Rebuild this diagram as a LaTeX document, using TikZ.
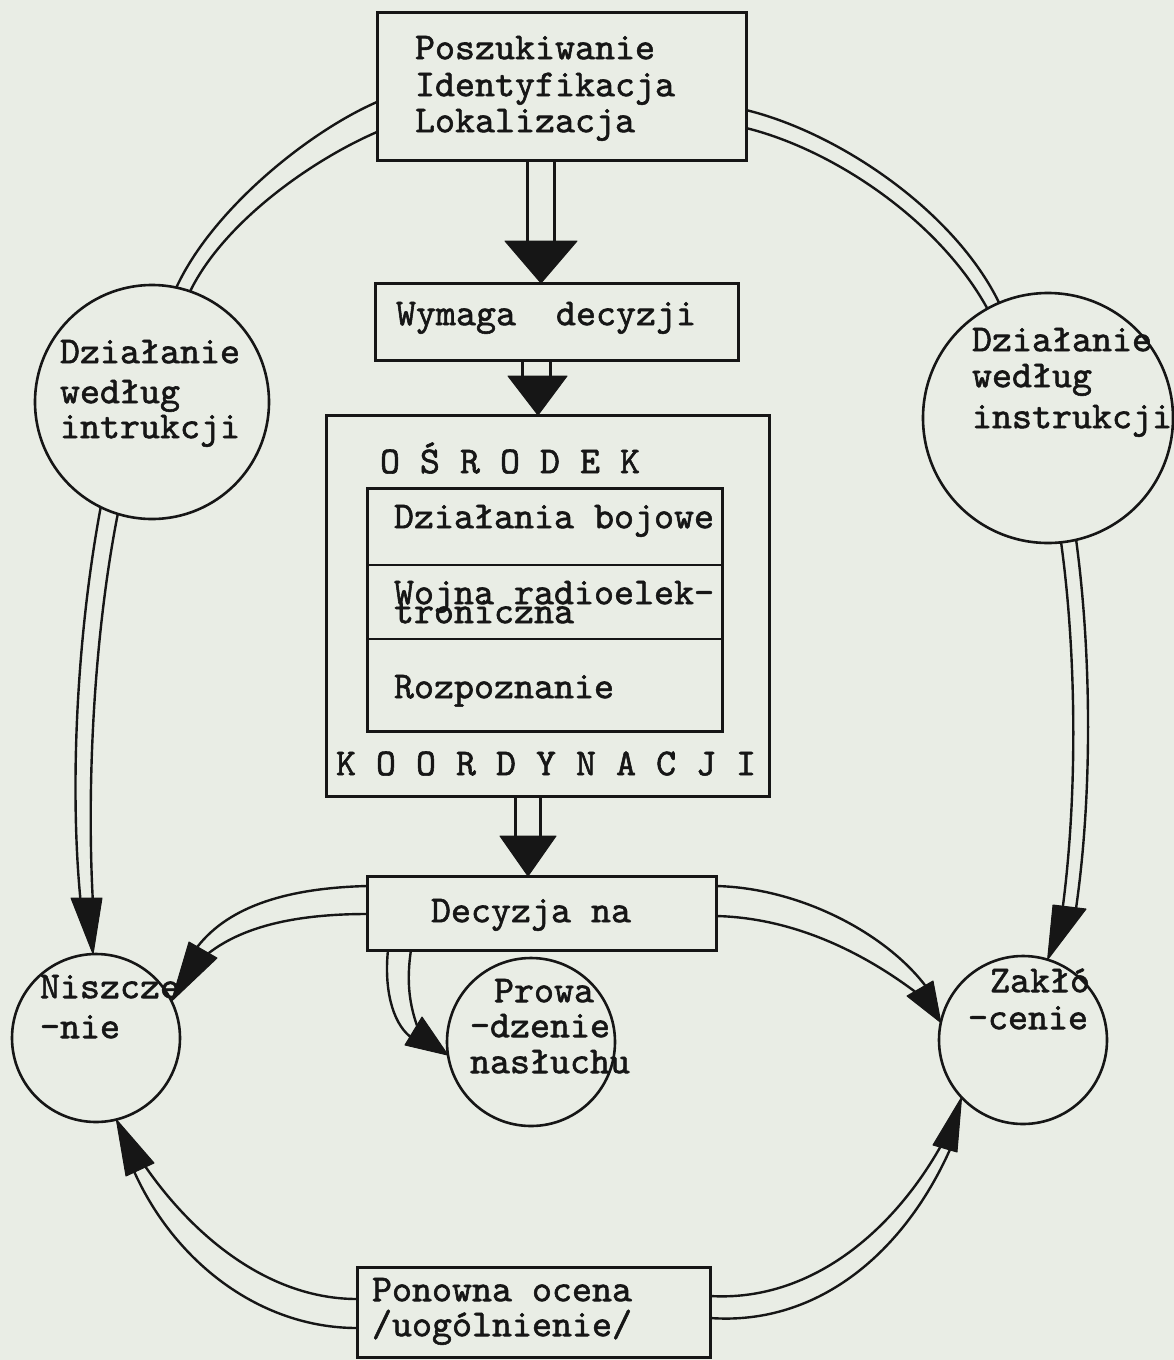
\documentclass[tikz,border=0pt]{standalone}
\usepackage{fontspec}
\setmonofont{lmmono10-regular.otf}[FakeBold=1.5]
\usetikzlibrary{calc}
\definecolor{paper}{RGB}{233,237,229}
\definecolor{ink}{RGB}{22,22,22}
\begin{document}
\begin{tikzpicture}[x=1pt,y=-1pt,
  every node/.style={inner sep=0pt, outer sep=0pt},
  box/.style={draw=ink, line width=3pt, rectangle},
  ring/.style={draw=ink, line width=2.6pt, circle},
  lbl/.style={anchor=west, yshift=-6pt, text=ink, font=\ttfamily\fontsize{38.1}{42}\selectfont, text height=0.62em, text depth=0.18em},
  rail/.style={draw=ink, line width=2.4pt},
  head/.style={fill=ink, draw=ink, line width=1pt, line join=round},
  sep/.style={draw=ink, line width=2.8pt}]
\fill[paper] (0,0) rectangle (1174,1360);
\useasboundingbox (0,0) rectangle (1174,1360);

% shapes
\node[box, minimum width=369pt, minimum height=148pt] (top) at (561.5,86) {};
\node[box, minimum width=363pt, minimum height=77pt] (wym) at (556.5,321.5) {};
\node[box, minimum width=443pt, minimum height=381pt] (osr) at (547.5,605.5) {};
\node[box, minimum width=355pt, minimum height=243pt] (osrin) at (544.5,609.5) {};
\node[box, minimum width=349pt, minimum height=74pt] (dec) at (541.5,913) {};
\node[box, minimum width=353pt, minimum height=90pt] (pon) at (533.5,1312) {};
\node[ring, minimum size=234pt] (lc) at (152,402) {};
\node[ring, minimum size=250pt] (rc) at (1048,418) {};
\node[ring, minimum size=168pt] (nis) at (96,1038) {};
\node[ring, minimum size=168pt] (prow) at (531,1042) {};
\node[ring, minimum size=168pt] (zak) at (1023,1040) {};

% dividers of inner box
\coordinate (d1) at (0,565);
\coordinate (d2) at (0,639);
\draw[sep] (osrin.west |- d1) -- (osrin.east |- d1);
\draw[sep] (osrin.west |- d2) -- (osrin.east |- d2);

% vertical double arrows
\coordinate (v1a) at (527,243); \coordinate (v1b) at (554,243);
\coordinate (v1l) at (505,241); \coordinate (v1r) at (577,241);
\draw[rail, line width=3pt] ($(top.south west)+(150,0)$) -- (v1a);
\draw[rail, line width=3pt] ($(top.south west)+(177,0)$) -- (v1b);
\filldraw[head] (v1l) -- (v1r) -- ($(wym.north west)+(166,0)$) -- cycle;

\coordinate (v2a) at (522,378); \coordinate (v2b) at (550,378);
\coordinate (v2l) at (508,376); \coordinate (v2r) at (567,376);
\draw[rail, line width=3pt] ($(wym.south west)+(147,0)$) -- (v2a);
\draw[rail, line width=3pt] ($(wym.south west)+(175,0)$) -- (v2b);
\filldraw[head] (v2l) -- (v2r) -- ($(osr.north west)+(212,0)$) -- cycle;

\coordinate (v3a) at (515,838); \coordinate (v3b) at (540,838);
\coordinate (v3l) at (500,836); \coordinate (v3r) at (556,836);
\draw[rail, line width=3pt] ($(osr.south west)+(189,0)$) -- (v3a);
\draw[rail, line width=3pt] ($(osr.south west)+(214,0)$) -- (v3b);
\filldraw[head] (v3l) -- (v3r) -- ($(dec.north west)+(161,0)$) -- cycle;

% A: top box -> left circle
\draw[rail] ($(top.north west)+(0,90)$) .. controls (308,132) and (212,210) .. (lc.78);
\draw[rail] ($(top.north west)+(0,120)$) .. controls (312,160) and (224,222) .. (lc.71);
% B: top box -> right circle
\draw[rail] ($(top.north east)+(0,98)$) .. controls (840,133) and (955,212) .. (rc.113);
\draw[rail] ($(top.north east)+(0,116)$) .. controls (835,150) and (940,222) .. (rc.119);
% C: left circle -> Niszczenie
\coordinate (cb1) at (71,898); \coordinate (cb2) at (102,898);
\draw[rail] (lc.244) .. controls (76,640) and (70,790) .. ($(cb1)!.3!(cb2)$);
\draw[rail] (lc.253) .. controls (93,640) and (87,790) .. ($(cb1)!.7!(cb2)$);
\filldraw[head] (cb1) -- (cb2) -- (nis.92) -- cycle;
% D: right circle -> Zaklocenie
\coordinate (db1) at (1053,905); \coordinate (db2) at (1086,909);
\draw[rail] (rc.276) .. controls (1076,650) and (1078,790) .. ($(db1)!.3!(db2)$);
\draw[rail] (rc.283) .. controls (1091,650) and (1093,790) .. ($(db1)!.7!(db2)$);
\filldraw[head] (db1) -- (db2) -- (zak.73) -- cycle;
% E: Decyzja -> Niszczenie
\coordinate (eb1) at (189,942); \coordinate (eb2) at (217,958);
\draw[rail] ($(dec.north west)+(0,10)$) .. controls (290,888) and (230,905) .. ($(eb1)!.3!(eb2)$);
\draw[rail] ($(dec.north west)+(0,38)$) .. controls (300,914) and (245,925) .. ($(eb1)!.7!(eb2)$);
\filldraw[head] (eb1) -- (eb2) -- (nis.26) -- cycle;
% F: Decyzja -> Prowadzenie
\coordinate (fb1) at (405,1045); \coordinate (fb2) at (422,1017);
\draw[rail] ($(dec.south west)+(21,0)$) .. controls (384,988) and (392,1022) .. ($(fb1)!.3!(fb2)$);
\draw[rail] ($(dec.south west)+(44,0)$) .. controls (406,983) and (410,1005) .. ($(fb1)!.7!(fb2)$);
\filldraw[head] (fb1) -- (fb2) -- (prow.189) -- cycle;
% G: Decyzja -> Zaklocenie
\coordinate (gb1) at (933,981); \coordinate (gb2) at (907,996);
\draw[rail] ($(dec.north east)+(0,10)$) .. controls (800,888) and (885,933) .. ($(gb1)!.3!(gb2)$);
\draw[rail] ($(dec.north east)+(0,40)$) .. controls (800,918) and (870,958) .. ($(gb1)!.7!(gb2)$);
\filldraw[head] (gb1) -- (gb2) -- (zak.168) -- cycle;
% H: Ponowna -> Niszczenie
\coordinate (hb1) at (126,1176); \coordinate (hb2) at (154,1163);
\draw[rail] ($(pon.north west)+(0,61)$) .. controls (260,1328) and (175,1262) .. ($(hb1)!.3!(hb2)$);
\draw[rail] ($(pon.north west)+(0,32)$) .. controls (270,1299) and (195,1238) .. ($(hb1)!.7!(hb2)$);
\filldraw[head] (hb1) -- (hb2) -- (nis.284) -- cycle;
% I: Ponowna -> Zaklocenie
\coordinate (ib1) at (957,1152); \coordinate (ib2) at (933,1145);
\draw[rail] ($(pon.north east)+(0,51)$) .. controls (820,1326) and (905,1250) .. ($(ib1)!.3!(ib2)$);
\draw[rail] ($(pon.north east)+(0,29)$) .. controls (810,1302) and (892,1232) .. ($(ib1)!.7!(ib2)$);
\filldraw[head] (ib1) -- (ib2) -- (zak.223) -- cycle;

% texts
\node[lbl] (t1) at (415,51) {Poszukiwanie};
\node[lbl] (t2) at (415,88) {Identyfikacja};
\node[lbl] (t3) at (415,124) {Lokalizacja};
\node[lbl] (t4) at (396,317) {Wymaga~~decyzji};
\node[lbl] (t5) at (380,465) {O Ś R O D E K};
\node[lbl] (t6) at (394,520) {Działania bojowe};
\node[lbl] (t7) at (394,596) {Wojna radioelek-};
\node[lbl] (t8) at (394,615) {troniczna};
\node[lbl] (t9) at (394,690) {Rozpoznanie};
\node[lbl] (t10) at (336,767) {K O O R D Y N A C J I};
\node[lbl] (t11) at (431,914) {Decyzja na};
\node[lbl] (t12) at (60,355) {Działanie};
\node[lbl] (t13) at (60,395) {według};
\node[lbl] (t14) at (60,430) {intrukcji};
\node[lbl] (t15) at (972,343) {Działanie};
\node[lbl] (t16) at (972,379) {według};
\node[lbl] (t17) at (972,420) {instrukcji};
\node[lbl] (t18) at (40,990) {Niszcze};
\node[lbl] (t19) at (40,1030) {-nie};
\node[lbl] (t20) at (494,994) {Prowa};
\node[lbl] (t21) at (470,1029) {-dzenie};
\node[lbl] (t22) at (470,1065) {nasłuchu};
\node[lbl] (t23) at (990,984) {Zakłó};
\node[lbl] (t24) at (968,1021) {-cenie};
\node[lbl] (t25) at (372,1293) {Ponowna ocena};
\node[lbl] (t26) at (372,1328) {/uogólnienie/};
\end{tikzpicture}
\end{document}
